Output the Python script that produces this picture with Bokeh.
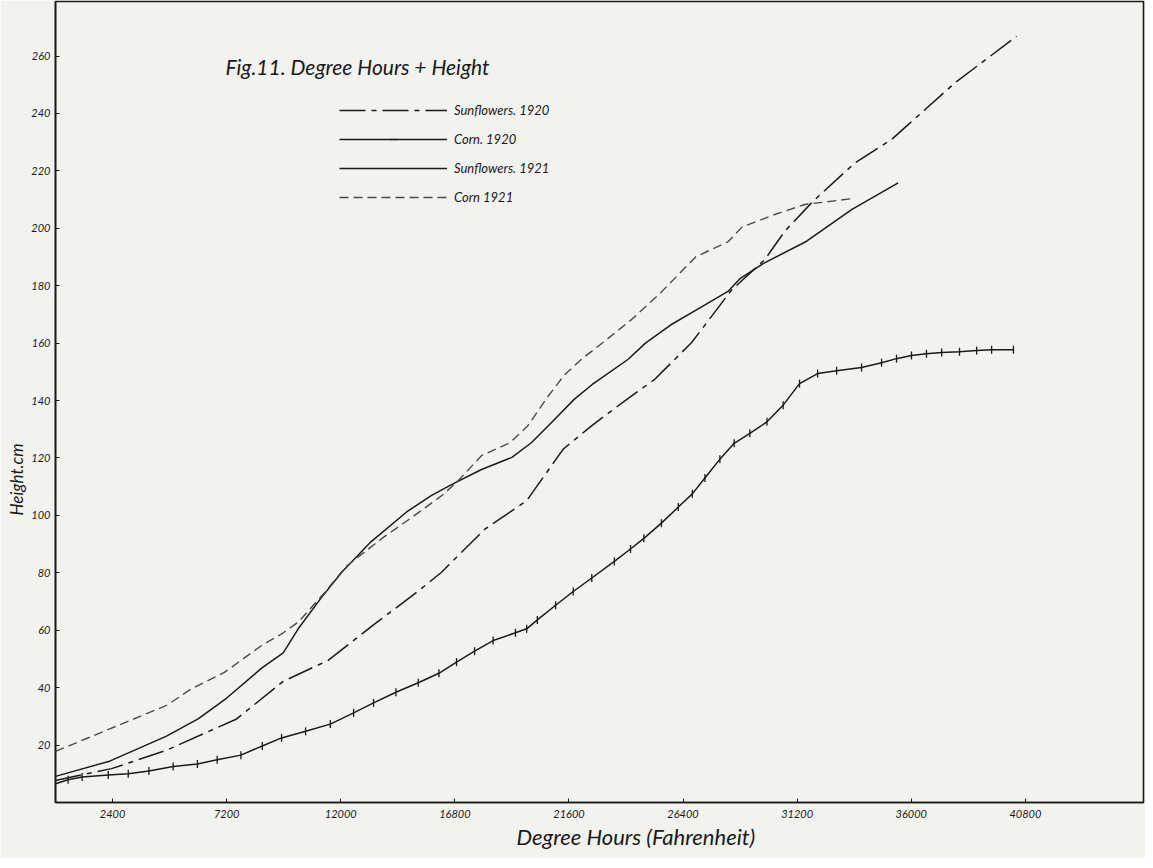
import math
from bokeh.plotting import figure
from bokeh.models import Label, Legend, LegendItem, FixedTicker, Range1d, Title
from bokeh.embed import file_html
from bokeh.resources import INLINE

# ---- data ----
sf1920_x = [0, 2360, 4670, 7620, 9580, 11470, 13430, 15190, 16240, 18060, 19820, 21360, 22550,
            23950, 25210, 26760, 28440, 29840, 30680, 31880, 33630, 35170, 35870, 37830, 40430]
sf1920_y = [7.7, 11.8, 18.2, 29.1, 42.2, 49.5, 62.2, 73.2, 80.2, 95.2, 105.1, 123.1, 131.2,
            139.9, 147.4, 160.2, 178.5, 189.1, 199.0, 209.5, 222.8, 230.9, 236.1, 250.6, 266.9]

corn1920_x = [0, 530, 1120, 2220, 3060, 3930, 4950, 5970, 6800, 7800, 8700, 9510, 10520, 11560,
              12540, 13380, 14320, 15260, 16130, 16870, 17630, 18410, 19350, 19820, 20270, 21040,
              21780, 22560, 23510, 24190, 24750, 25490, 26200, 26790, 27320, 27950, 28550, 29210,
              29930, 30610, 31300, 32060, 32860, 33910, 34750, 35380, 36010, 36640, 37280, 38030,
              38750, 39380, 40300]
corn1920_y = [6.5, 7.9, 8.9, 9.6, 10.0, 11.0, 12.5, 13.4, 14.9, 16.5, 19.7, 22.5, 24.8, 27.3,
              31.2, 34.7, 38.4, 41.7, 45.0, 48.9, 52.7, 56.4, 59.1, 60.5, 63.6, 68.7,
              73.5, 78.2, 84.0, 88.3, 92.0, 97.3, 102.9, 107.5, 113.0, 119.6, 125.1, 128.6,
              132.6, 138.4, 145.9, 149.4, 150.4, 151.5, 153.2, 154.6, 155.7, 156.3, 156.7, 157.0,
              157.4, 157.7, 157.7]

sf1921_x = [0, 2280, 4670, 6000, 7190, 8670, 9580, 10210, 11160, 12060, 13270, 14770, 15820,
            16720, 17920, 19200, 20030, 20930, 21830, 22580, 24080, 24830, 25890, 27090, 28290,
            28810, 29790, 31600, 33490, 35450]
sf1921_y = [9.1, 14.4, 23.1, 29.1, 36.3, 46.8, 52.1, 60.5, 71.1, 80.4, 90.8, 101.2, 107.0,
            111.0, 116.0, 120.2, 125.4, 132.9, 140.5, 145.6, 154.3, 160.1, 166.4, 172.2, 178.0,
            182.6, 187.8, 195.5, 206.5, 215.8]

corn1921_x = [0, 2360, 4670, 5720, 7120, 8670, 9510, 10210, 11330, 12210, 13720, 14920, 16270,
              16940, 17920, 19130, 19870, 20730, 21430, 22130, 23180, 24230, 25440, 26940, 28290,
              28890, 30260, 31520, 33490]
corn1921_y = [17.8, 25.9, 33.8, 39.6, 45.4, 54.7, 58.7, 62.8, 73.2, 82.1, 91.9, 98.9, 107.0,
              112.1, 120.8, 125.4, 131.2, 141.6, 149.1, 154.4, 161.2, 168.2, 177.4, 190.1, 195.3,
              200.5, 204.8, 208.3, 210.3]

x_ticks = [2400, 7200, 12000, 16800, 21600, 26400, 31200, 36000, 40800]
y_ticks = [20, 40, 60, 80, 100, 120, 140, 160, 180, 200, 220, 240, 260]

series_names = ["Sunflowers. 1920", "Corn. 1920", "Sunflowers. 1921", "Corn 1921"]
title_text = "Fig.11. Degree Hours + Height"
x_label = "Degree Hours (Fahrenheit)"
y_label = "Height.cm"

PAPER = "#f2f2ef"
INK = "#1a1a1a"
FONT = "Lato"

p = figure(width=1145, height=858, output_backend="svg", toolbar_location=None,
           x_range=Range1d(0, 45770), y_range=Range1d(0, 279),
           min_border_left=55, min_border_right=2, min_border_top=1, min_border_bottom=56)
p.background_fill_color = PAPER
p.border_fill_color = PAPER
p.outline_line_color = INK
p.outline_line_width = 1.6
p.xgrid.visible = False
p.ygrid.visible = False

for ax in (p.xaxis[0], p.yaxis[0]):
    ax.axis_line_color = INK
    ax.axis_line_width = 1.6
    ax.major_tick_in = 4
    ax.major_tick_out = 0
    ax.major_tick_line_color = INK
    ax.minor_tick_line_color = None
    ax.major_label_text_font = FONT
    ax.major_label_text_font_style = "italic"
    ax.major_label_text_font_size = "11px"
    ax.major_label_text_color = INK
p.xaxis.major_label_standoff = 7
p.yaxis.major_label_standoff = 5
p.xaxis.ticker = FixedTicker(ticks=x_ticks)
p.yaxis.ticker = FixedTicker(ticks=y_ticks)

r_sf20 = p.line(sf1920_x, sf1920_y, line_color=INK, line_width=1.5, line_dash="26 6 5 6")
r_c20 = p.line(corn1920_x, corn1920_y, line_color=INK, line_width=1.5)
r_c20m = p.scatter(corn1920_x[1:], corn1920_y[1:], marker="dash", angle=math.pi / 2, size=8,
                   line_color=INK, line_width=1.3)
r_sf21 = p.line(sf1921_x, sf1921_y, line_color=INK, line_width=1.5)
r_c21 = p.line(corn1921_x, corn1921_y, line_color="#4a4a4a", line_width=1.4, line_dash="9 5")

legend = Legend(items=[
    LegendItem(label=series_names[0], renderers=[r_sf20]),
    LegendItem(label=series_names[1], renderers=[r_c20, r_c20m]),
    LegendItem(label=series_names[2], renderers=[r_sf21]),
    LegendItem(label=series_names[3], renderers=[r_c21]),
], location=(284, 595), glyph_width=108, glyph_height=20, label_height=20, spacing=9,
    padding=0, margin=0, label_standoff=7, border_line_alpha=0, background_fill_alpha=0,
    label_text_font=FONT, label_text_font_style="italic", label_text_font_size="13px",
    label_text_color=INK)
p.add_layout(legend)

p.add_layout(Label(x=7150, y=256.5, text=title_text, text_font=FONT, text_font_style="italic",
                   text_font_size="21px", text_color=INK, text_baseline="middle",
                   text_align="left"))

p.add_layout(Title(text=y_label, align="left", offset=287, text_font=FONT,
                   text_font_style="italic", text_font_size="17px", text_color=INK,
                   standoff=4), "left")
p.add_layout(Title(text=x_label, align="left", offset=461, text_font=FONT,
                   text_font_style="italic", text_font_size="22px", text_color=INK,
                   standoff=1), "below")

open("out.html", "w").write(file_html(p, INLINE))
